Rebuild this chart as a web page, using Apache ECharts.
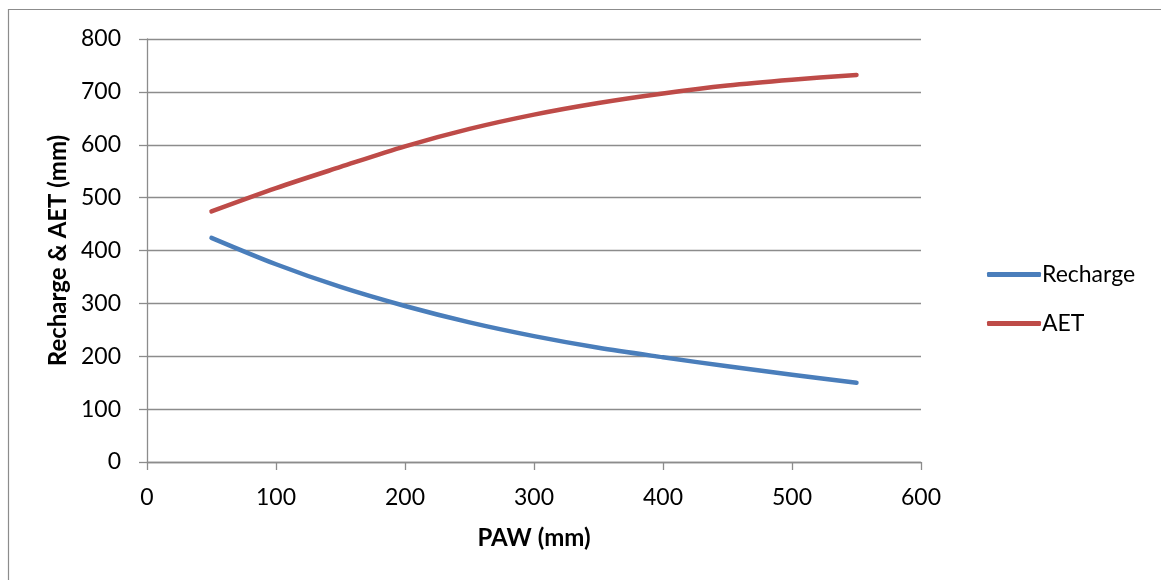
<!DOCTYPE html>
<html>
<head>
<meta charset="utf-8">
<script src="https://cdn.jsdelivr.net/npm/echarts@6/dist/echarts.min.js"></script>
<style>
  html, body { margin: 0; padding: 0; background: #ffffff; }
  #chart { width: 1161px; height: 580px; }
</style>
</head>
<body>
<div id="chart"></div>
<script>
// Plant available water (mm) against annual recharge and actual evapotranspiration
const paw = [50, 100, 150, 200, 250, 300, 350, 400, 450, 500, 550];
const recharge = [424, 374, 331, 295, 264, 238, 216, 198, 181, 165, 150];
const aet = [474, 518, 558, 597, 630, 657, 679, 697, 712, 723, 732];
const seriesNames = ['Recharge', 'AET'];
const xTicks = [0, 100, 200, 300, 400, 500, 600];
const yTicks = [0, 100, 200, 300, 400, 500, 600, 700, 800];

const FONT = 'Lato, "Open Sans", sans-serif';
const GRID_COLOR = '#8c8c8c';
const BLUE = '#4a7ebb';
const RED = '#be4b48';

const pairs = (xs, ys) => xs.map((x, i) => [x, ys[i]]);

const chart = echarts.init(document.getElementById('chart'), null, { renderer: 'canvas' });

chart.setOption({
  backgroundColor: '#ffffff',
  animation: false,
  textStyle: { fontFamily: FONT },
  graphic: [{
    type: 'polyline',
    shape: { points: [[8.5, 590], [8.5, 9.5], [1170, 9.5]] },
    style: { stroke: '#8c8c8c', lineWidth: 1.2, fill: null },
    silent: true
  }],
  grid: { left: 147, right: 240, top: 39, bottom: 118, containLabel: false },
  xAxis: {
    type: 'value',
    min: xTicks[0],
    max: xTicks[xTicks.length - 1],
    interval: 100,
    name: 'PAW (mm)',
    nameLocation: 'middle',
    nameGap: 64,
    nameTextStyle: { fontFamily: FONT, fontSize: 24, fontWeight: 'bold', color: '#000' },
    axisLine: { show: true, onZero: false, lineStyle: { color: GRID_COLOR, width: 1.3 } },
    axisTick: { show: true, length: 8, inside: false, lineStyle: { color: GRID_COLOR, width: 1.3 } },
    axisLabel: { fontFamily: FONT, fontSize: 23, color: '#000', margin: 24 },
    splitLine: { show: false }
  },
  yAxis: {
    type: 'value',
    min: yTicks[0],
    max: yTicks[yTicks.length - 1],
    interval: 100,
    name: 'Recharge & AET (mm)',
    nameLocation: 'middle',
    nameGap: 73,
    nameRotate: 90,
    nameTextStyle: { fontFamily: FONT, fontSize: 24, fontWeight: 'bold', color: '#000' },
    axisLine: { show: true, lineStyle: { color: GRID_COLOR, width: 1.3 } },
    axisTick: { show: true, length: 8, inside: false, lineStyle: { color: GRID_COLOR, width: 1.3 } },
    axisLabel: { fontFamily: FONT, fontSize: 23, color: '#000', margin: 26 },
    splitLine: { show: true, lineStyle: { color: GRID_COLOR, width: 1.3 } }
  },
  legend: [
    {
      data: [seriesNames[0]],
      left: 982, top: 258,
      icon: 'roundRect', itemWidth: 54, itemHeight: 5, itemGap: 0,
      textStyle: { fontFamily: FONT, fontSize: 23, color: '#000', padding: [0, 0, 0, -4] }
    },
    {
      data: [seriesNames[1]],
      left: 982, top: 307,
      icon: 'roundRect', itemWidth: 54, itemHeight: 5, itemGap: 0,
      textStyle: { fontFamily: FONT, fontSize: 23, color: '#000', padding: [0, 0, 0, -4] }
    }
  ],
  series: [
    {
      name: seriesNames[0],
      type: 'line',
      data: pairs(paw, recharge),
      smooth: 0.3,
      symbol: 'none',
      color: BLUE,
      lineStyle: { color: BLUE, width: 4.5, cap: 'round', join: 'round' }
    },
    {
      name: seriesNames[1],
      type: 'line',
      data: pairs(paw, aet),
      smooth: 0.3,
      symbol: 'none',
      color: RED,
      lineStyle: { color: RED, width: 4.5, cap: 'round', join: 'round' }
    }
  ]
});
</script>
</body>
</html>
